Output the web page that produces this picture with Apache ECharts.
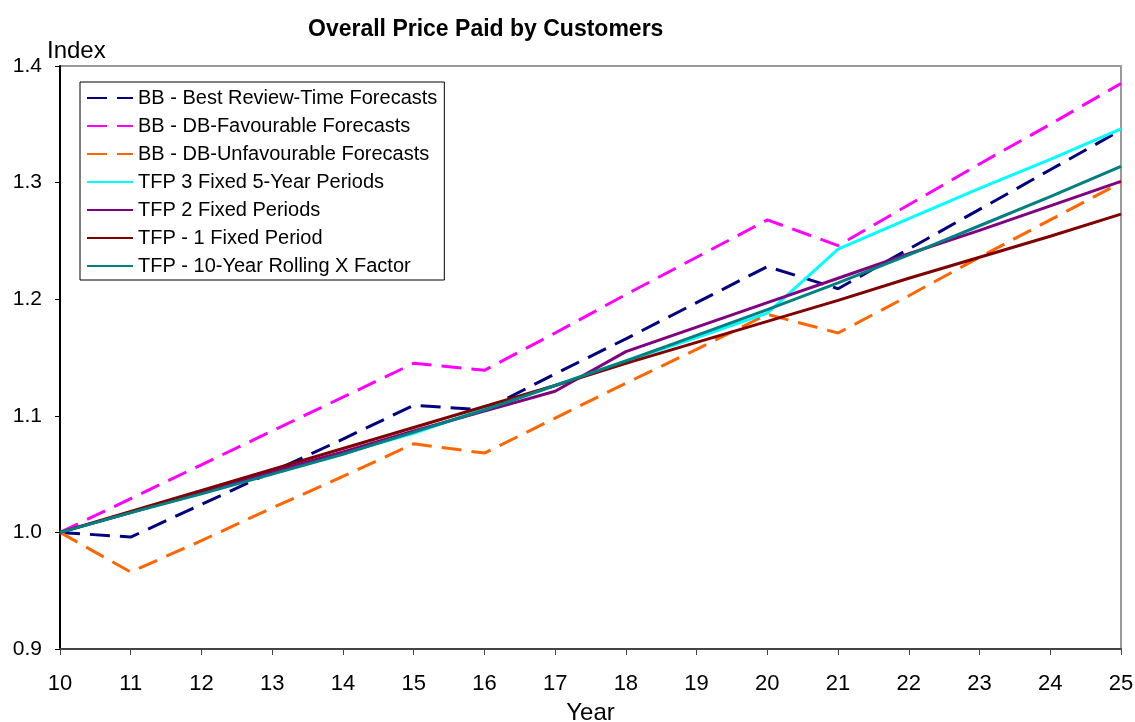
<!DOCTYPE html>
<html>
<head>
<meta charset="utf-8">
<script src="https://cdn.jsdelivr.net/npm/echarts@6/dist/echarts.min.js"></script>
<style>html,body{margin:0;padding:0;background:#fff;}#c{width:1135px;height:722px;}</style>
</head>
<body>
<div id="c"></div>
<script>
const years = ['10','11','12','13','14','15','16','17','18','19','20','21','22','23','24','25'];
const bbBest = [1.000,0.996,1.024,1.052,1.080,1.109,1.105,1.136,1.166,1.197,1.228,1.209,1.243,1.277,1.311,1.345];
const bbFav = [1.000,1.029,1.058,1.087,1.116,1.145,1.139,1.171,1.204,1.236,1.268,1.246,1.281,1.316,1.350,1.385];
const bbUnfav = [1.000,0.966,0.993,1.021,1.048,1.076,1.068,1.098,1.128,1.157,1.187,1.171,1.203,1.236,1.268,1.300];
const tfp3 = [1.000,1.017,1.034,1.051,1.068,1.085,1.106,1.126,1.147,1.167,1.188,1.243,1.269,1.295,1.320,1.346];
const tfp2 = [1.000,1.017,1.035,1.052,1.069,1.087,1.104,1.121,1.155,1.176,1.197,1.218,1.239,1.259,1.280,1.301];
const tfp1 = [1.000,1.018,1.036,1.054,1.072,1.090,1.108,1.126,1.145,1.163,1.181,1.199,1.218,1.236,1.254,1.273];
const tfpRoll = [1.000,1.017,1.033,1.050,1.067,1.086,1.105,1.126,1.147,1.169,1.191,1.214,1.238,1.263,1.288,1.314];
const yTicks = {min:0.9, max:1.4, interval:0.1};

const defs = [
  ['BB - Best Review-Time Forecasts', bbBest, '#000080', true],
  ['BB - DB-Favourable Forecasts', bbFav, '#FF00FF', true],
  ['BB - DB-Unfavourable Forecasts', bbUnfav, '#FF6600', true],
  ['TFP 3 Fixed 5-Year Periods', tfp3, '#00FFFF', false],
  ['TFP 2 Fixed Periods', tfp2, '#800080', false],
  ['TFP - 1 Fixed Period', tfp1, '#800000', false],
  ['TFP - 10-Year Rolling X Factor', tfpRoll, '#008080', false]
];
const font = 'Liberation Sans, Arial, sans-serif';
const chart = echarts.init(document.getElementById('c'));
chart.setOption({
  animation:false,
  backgroundColor:'#fff',
  title:{text:'Overall Price Paid by Customers', left:303, top:13,
    textStyle:{fontFamily:font, fontSize:23, fontWeight:'bold', color:'#000'}},
  legend:{orient:'vertical', left:80, top:82, itemWidth:46, itemHeight:14, itemGap:8,
    padding:[6,7,4,6], borderColor:'#000', borderWidth:1, backgroundColor:'#fff',
    itemStyle:{opacity:0, borderWidth:0},
    textStyle:{fontFamily:font, fontSize:20, color:'#000'},
    data:defs.map(d=>d[0])},
  grid:{left:60, right:14, top:66, bottom:73, outerBoundsMode:'none', containLabel:false,
    show:true, borderColor:'#999', borderWidth:2, backgroundColor:'transparent'},
  xAxis:{type:'category', data:years, boundaryGap:false,
    name:'Year', nameLocation:'middle', nameGap:52,
    nameTextStyle:{fontFamily:font, fontSize:24, color:'#000'},
    axisLine:{lineStyle:{color:'#444', width:2}},
    axisTick:{show:true, length:6, lineStyle:{color:'#444'}},
    axisLabel:{fontFamily:font, fontSize:22, color:'#000', margin:24},
    splitLine:{show:false}},
  yAxis:{type:'value', min:yTicks.min, max:yTicks.max, interval:yTicks.interval,
    name:'Index', nameLocation:'end', nameGap:3, nameMoveOverlap:false,
    nameTextStyle:{fontFamily:font, fontSize:24, color:'#000', align:'left', verticalAlign:'bottom', padding:[0,0,0,-13]},
    axisLine:{show:true, lineStyle:{color:'#000', width:2}},
    axisTick:{show:true, length:5, lineStyle:{color:'#000'}},
    axisLabel:{fontFamily:font, fontSize:21, color:'#000', margin:18, formatter:v=>v.toFixed(1)},
    splitLine:{show:false}},
  series:defs.map(d=>({name:d[0], type:'line', data:d[1], symbol:'none', showSymbol:false,
    lineStyle:{color:d[2], width:3, type:d[3]?[20,10]:'solid'}, itemStyle:{color:d[2]}}))
});
</script>
</body>
</html>
